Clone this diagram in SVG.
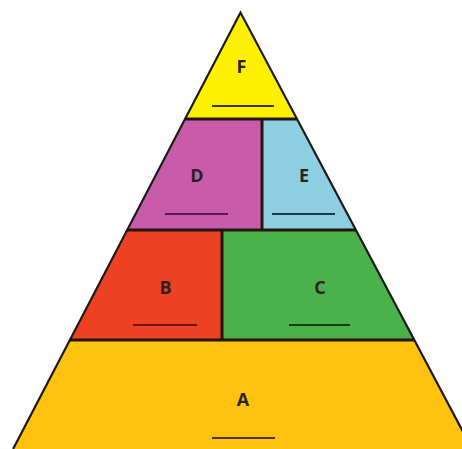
<svg xmlns="http://www.w3.org/2000/svg" width="462" height="449" viewBox="0 0 462 449">
  <style>
    .lbl { font-family: "Open Sans", "DejaVu Sans", sans-serif; font-weight: 700; font-size: 18px; text-anchor: middle; fill: #2a2320; }
    .ul { stroke-width: 2; stroke-linecap: butt; }
    .edge { stroke: #1c1a18; stroke-width: 2.2; fill: none; stroke-linejoin: miter; }
    .div { stroke: #22160f; stroke-width: 3; }
  </style>
  <rect width="462" height="449" fill="#ffffff"/>
  <g id="A">
    <polygon points="69.9,340 414.2,340 472.1,449 13.1,449" fill="#FFC20F"/>
    <text class="lbl" x="243" y="406">A</text>
    <line class="ul" x1="212" y1="438" x2="275" y2="438" stroke="#4a3210"/>
  </g>
  <g id="B">
    <polygon points="127.2,230 222,230 222,340 69.9,340" fill="#EE4123"/>
    <text class="lbl" x="165.5" y="294">B</text>
    <line class="ul" x1="133" y1="325" x2="197" y2="325" stroke="#6a1408"/>
  </g>
  <g id="C">
    <polygon points="222,230 355.9,230 414.2,340 222,340" fill="#4BB14A"/>
    <text class="lbl" x="320" y="294">C</text>
    <line class="ul" x1="289" y1="325" x2="350" y2="325" stroke="#103d12"/>
  </g>
  <g id="D">
    <polygon points="185,119 262,119 262,230 127.2,230" fill="#C95BAB"/>
    <text class="lbl" x="197" y="182">D</text>
    <line class="ul" x1="165" y1="214" x2="228" y2="214" stroke="#5a1758"/>
  </g>
  <g id="E">
    <polygon points="262,119 297,119 355.9,230 262,230" fill="#8DCFE0"/>
    <text class="lbl" x="304" y="182">E</text>
    <line class="ul" x1="272" y1="214" x2="335" y2="214" stroke="#1e3a48"/>
  </g>
  <g id="F">
    <polygon points="240.5,12.5 297,119 185,119" fill="#FFF000"/>
    <text class="lbl" x="241.5" y="73">F</text>
    <line class="ul" x1="212" y1="106" x2="274" y2="106" stroke="#3a3400"/>
  </g>
  <g id="outline">
    <polyline class="edge" points="13.1,449 240.5,12.5 472.1,449"/>
    <line class="div" x1="185" y1="119" x2="297" y2="119"/>
    <line class="div" x1="127.2" y1="230" x2="355.9" y2="230"/>
    <line class="div" x1="69.9" y1="340" x2="414.2" y2="340"/>
    <line class="div" x1="262" y1="119" x2="262" y2="230" stroke="#1e1242"/>
    <line class="div" x1="222" y1="230" x2="222" y2="340" stroke="#1a0a05"/>
  </g>
</svg>
